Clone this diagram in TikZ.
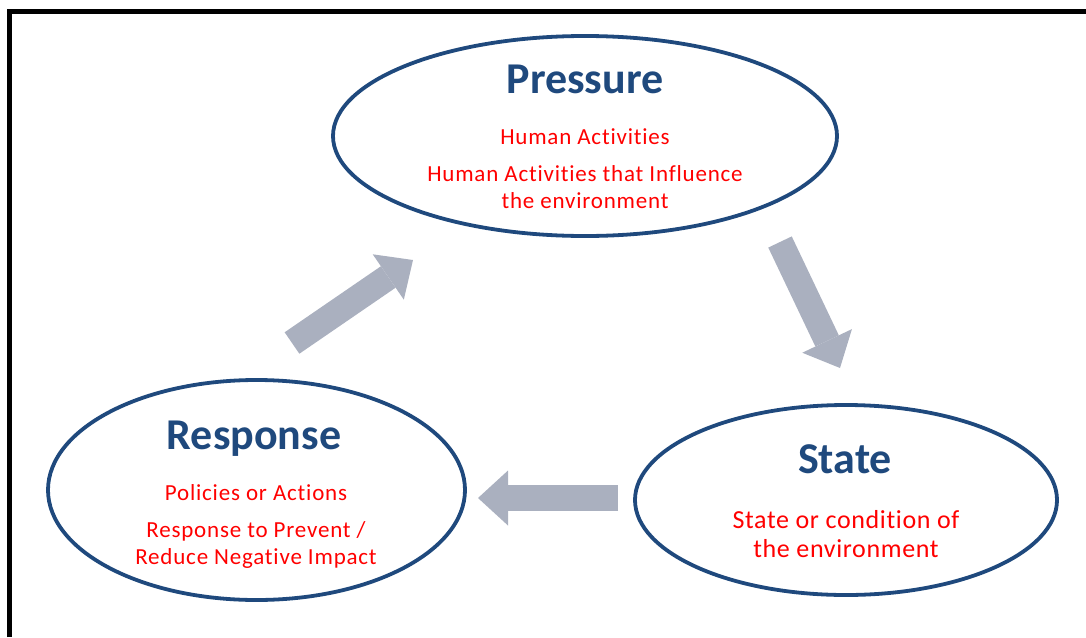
\documentclass[tikz,border=0pt]{standalone}
\usepackage{fontspec}
\setmainfont{Carlito}
\usetikzlibrary{shapes.geometric, arrows.meta}
\definecolor{dpsrblue}{RGB}{31,73,125}
\definecolor{dpsrred}{RGB}{255,0,0}
\definecolor{dpsrgray}{RGB}{170,176,191}

\begin{document}
\begin{tikzpicture}[x=1pt, y=-1pt,
    phase/.style={ellipse, draw=dpsrblue, line width=3.8pt, inner sep=0pt},
    title/.style={anchor=base, text=dpsrblue, font=\fontsize{44}{50}\selectfont\bfseries},
    info/.style={anchor=base, text=dpsrred,
      font=\fontsize{23}{27}\selectfont\addfontfeature{LetterSpace=3.5, Ligatures=NoCommon}},
    flow/.style={draw=dpsrgray, line width=26pt,
      -{Triangle[width=55pt, length=30pt, line width=0pt]}}]

  \useasboundingbox (0,0) rectangle (1086,637);
  \draw[line width=5pt] (9.5,637) |- (1086,11.5);

  % the three phases
  \node[phase, minimum width=504pt, minimum height=200pt] (press) at (585,136) {};
  \node[phase, minimum width=417pt, minimum height=220pt] (resp) at (256.5,490) {};
  \node[phase, minimum width=422pt, minimum height=190pt] (state) at (846,500) {};

  \node[title] (press title) at (585,93) {Pressure};
  \node[info] (press act) at (585,144) {Human Activities};
  \node[info] (press infl) at (585,181) {Human Activities that Influence};
  \node[info] (press env) at (585,208) {the environment};

  \node[title] (resp title) at (254,449) {Response};
  \node[info] (resp pol) at (256,500) {Policies or Actions};
  \node[info] (resp prev) at (256,537) {Response to Prevent /};
  \node[info] (resp red) at (256,564) {Reduce Negative Impact};

  \node[title] (state title) at (845,473) {State};
  \node[info, font=\fontsize{26}{30}\selectfont\addfontfeature{LetterSpace=2.5, Ligatures=NoCommon}] (state cond) at (846,528) {State or condition of};
  \node[info, font=\fontsize{26}{30}\selectfont\addfontfeature{LetterSpace=2.5, Ligatures=NoCommon}] (state env) at (846,557) {the environment};

  % cycle arrows
  \coordinate (r2p tail) at (292,343);
  \coordinate (r2p tip) at (413,260);
  \coordinate (p2s tail) at (780,242);
  \coordinate (p2s tip) at (840,368);
  \coordinate (s2r tail) at (618,498);
  \coordinate (s2r tip) at (478,498);
  \draw[flow] (r2p tail) -- (r2p tip);
  \draw[flow] (p2s tail) -- (p2s tip);
  \draw[flow] (s2r tail) -- (s2r tip);
\end{tikzpicture}
\end{document}
